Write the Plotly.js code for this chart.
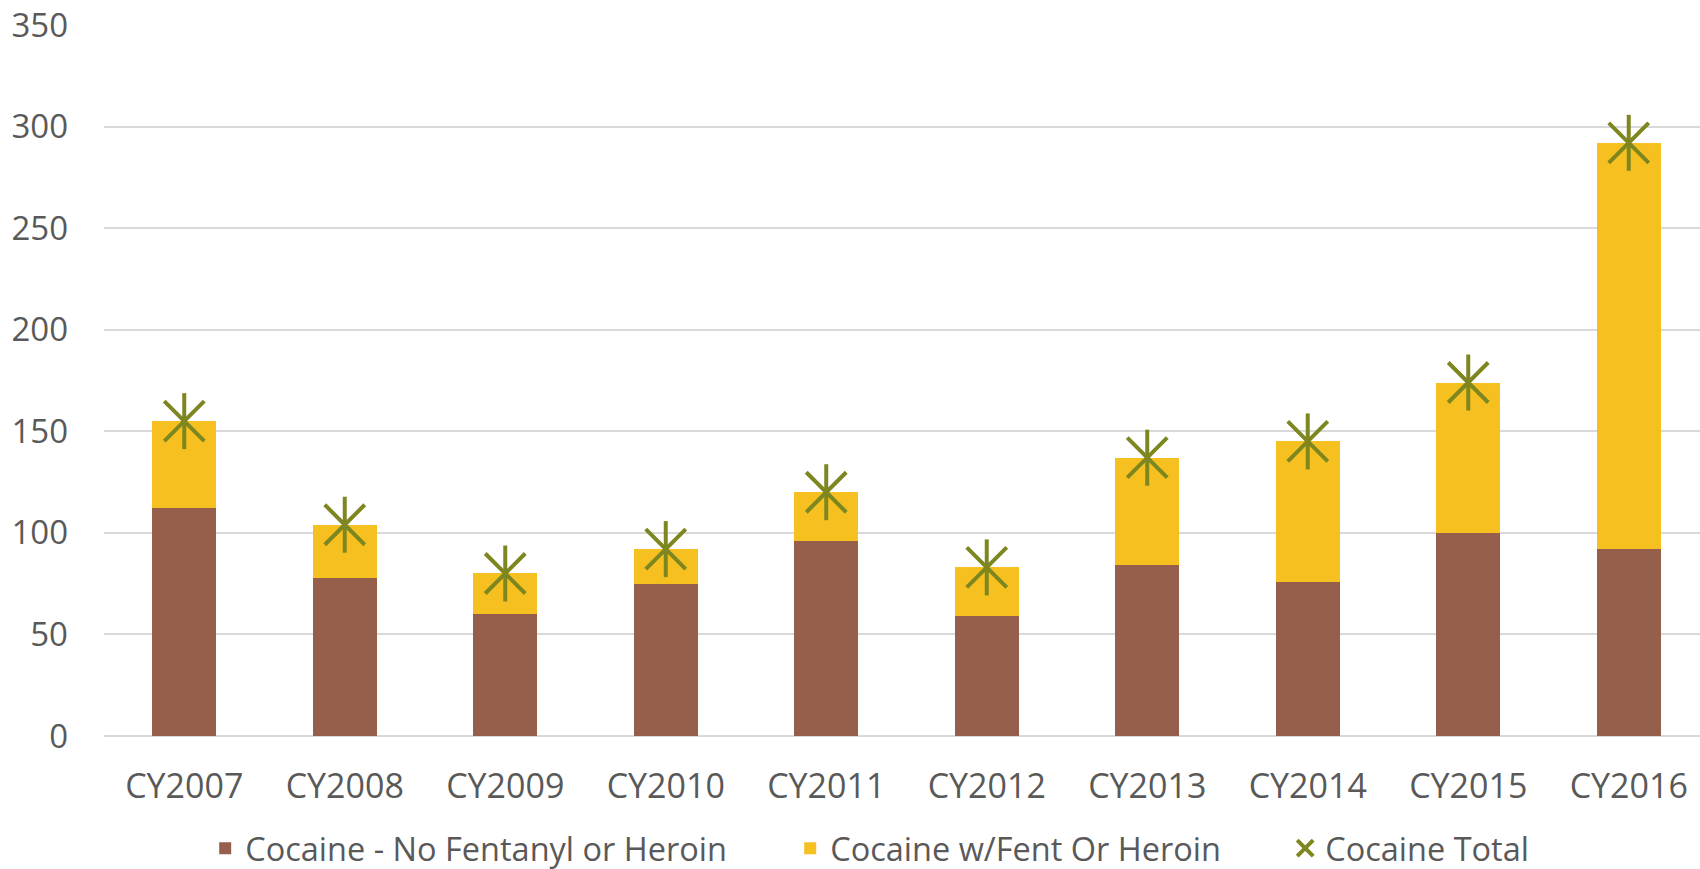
<!DOCTYPE html>
<html>
<head>
<meta charset="utf-8">
<script src="https://cdn.plot.ly/plotly-3.0.1.min.js"></script>
<style>html,body{margin:0;padding:0;background:#fff;}#chart{width:1700px;height:869px;}</style>
</head>
<body>
<div id="chart"></div>
<script>
const categories = ["CY2007","CY2008","CY2009","CY2010","CY2011","CY2012","CY2013","CY2014","CY2015","CY2016"];
const noFentanylOrHeroin = [112, 78, 60, 75, 96, 59, 84, 76, 100, 92];
const withFentOrHeroin = [43, 26, 20, 17, 24, 24, 53, 69, 74, 200];
const cocaineTotal = [155, 104, 80, 92, 120, 83, 137, 145, 174, 292];
const yTicks = [0, 50, 100, 150, 200, 250, 300, 350];

const FONT = "Open Sans, Liberation Sans, sans-serif";
const TXT = "#595959";
const OLIVE = "#7E8620";

const traces = [
  {type: "bar", name: "Cocaine - No Fentanyl or Heroin", x: categories, y: noFentanylOrHeroin,
   marker: {color: "#955F4B"}, hoverinfo: "y+name", legendwidth: 540},
  {type: "bar", name: "Cocaine w/Fent Or Heroin", x: categories, y: withFentOrHeroin,
   marker: {color: "#F6C120"}, hoverinfo: "y+name", legendwidth: 450},
  {type: "scatter", mode: "markers", name: "Cocaine Total", x: categories, y: cocaineTotal,
   legendgroup: "total",
   marker: {symbol: "x-thin-open", size: 40, color: OLIVE, line: {color: OLIVE, width: 4}}},
  {type: "scatter", mode: "markers", name: "Cocaine Total", x: categories, y: cocaineTotal,
   legendgroup: "total", showlegend: false, hoverinfo: "skip",
   marker: {symbol: "line-ns-open", size: 40, color: OLIVE, line: {color: OLIVE, width: 4}}}
];

const layout = {
  width: 1700, height: 869,
  margin: {l: 104, r: 0, t: 25, b: 133, autoexpand: false},
  paper_bgcolor: "#ffffff", plot_bgcolor: "#ffffff",
  barmode: "stack", bargap: 0.6,
  font: {family: FONT, size: 32, color: TXT},
  showlegend: true,
  legend: {orientation: "h", xref: "container", yref: "container",
           x: 0.1207, xanchor: "left", y: 0.0235, yanchor: "middle",
           font: {family: FONT, size: 32.5, color: TXT}, traceorder: "normal"},
  xaxis: {type: "category", range: [-0.5, 9.444], showgrid: false, zeroline: false,
          showline: false, ticks: "", ticklabelstandoff: 27,
          tickfont: {family: FONT, size: 34, color: TXT}},
  yaxis: {range: [0, 350], tickvals: yTicks, ticktext: yTicks.map(String),
          showgrid: true, gridcolor: "#D9D9D9", gridwidth: 1.5,
          zeroline: true, zerolinecolor: "#D9D9D9", zerolinewidth: 1.5,
          showline: false, ticks: "", ticklabelstandoff: 35,
          tickfont: {family: FONT, size: 33, color: TXT}}
};

Plotly.newPlot("chart", traces, layout, {displayModeBar: false, responsive: false});
</script>
</body>
</html>
